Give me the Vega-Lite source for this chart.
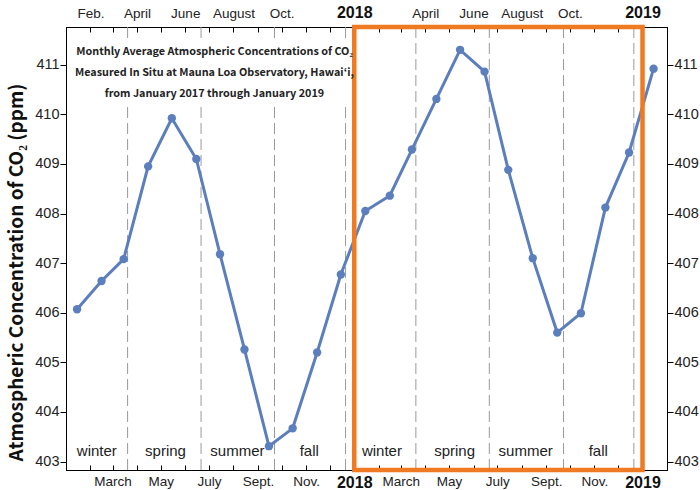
{
  "$schema": "https://vega.github.io/schema/vega-lite/v6.json",
  "autosize": {"type": "none"},
  "padding": {"left": 66, "top": 27, "right": 33, "bottom": 20},
  "width": 601,
  "height": 443,
  "background": "white",
  "config": {
    "view": {"stroke": "#000", "strokeWidth": 1},
    "axis": {
      "domainColor": "#000",
      "tickColor": "#000",
      "labelFont": "Liberation Sans",
      "labelColor": "#222",
      "grid": false
    }
  },
  "datasets": {
    "co2": [
      {"date": "2017-01-15", "ppm": 406.07},
      {"date": "2017-02-15", "ppm": 406.64},
      {"date": "2017-03-15", "ppm": 407.08},
      {"date": "2017-04-15", "ppm": 408.95},
      {"date": "2017-05-15", "ppm": 409.92},
      {"date": "2017-06-15", "ppm": 409.10},
      {"date": "2017-07-15", "ppm": 407.18},
      {"date": "2017-08-15", "ppm": 405.26},
      {"date": "2017-09-15", "ppm": 403.31},
      {"date": "2017-10-15", "ppm": 403.67},
      {"date": "2017-11-15", "ppm": 405.20},
      {"date": "2017-12-15", "ppm": 406.77},
      {"date": "2018-01-15", "ppm": 408.05},
      {"date": "2018-02-15", "ppm": 408.36},
      {"date": "2018-03-15", "ppm": 409.29},
      {"date": "2018-04-15", "ppm": 410.31},
      {"date": "2018-05-15", "ppm": 411.30},
      {"date": "2018-06-15", "ppm": 410.86},
      {"date": "2018-07-15", "ppm": 408.88},
      {"date": "2018-08-15", "ppm": 407.10},
      {"date": "2018-09-15", "ppm": 405.60},
      {"date": "2018-10-15", "ppm": 405.99},
      {"date": "2018-11-15", "ppm": 408.12},
      {"date": "2018-12-15", "ppm": 409.23},
      {"date": "2019-01-15", "ppm": 410.92}
    ],
    "seasons": [
      {"date": "2017-02-09", "label": "winter"},
      {"date": "2017-05-07", "label": "spring"},
      {"date": "2017-08-06", "label": "summer"},
      {"date": "2017-11-05", "label": "fall"},
      {"date": "2018-02-05", "label": "winter"},
      {"date": "2018-05-08", "label": "spring"},
      {"date": "2018-08-06", "label": "summer"},
      {"date": "2018-11-06", "label": "fall"}
    ],
    "boundaries": [
      {"date": "2017-03-20"},
      {"date": "2017-06-21"},
      {"date": "2017-09-22"},
      {"date": "2017-12-21"},
      {"date": "2018-03-20"},
      {"date": "2018-06-21"},
      {"date": "2018-09-23"},
      {"date": "2018-12-21"}
    ],
    "titlelines": [
      {"date": "2017-07-08", "ppm": 411.25, "text": "Monthly Average Atmospheric Concentrations of CO₂"},
      {"date": "2017-07-08", "ppm": 410.83, "text": "Measured In Situ at Mauna Loa Observatory, Hawaiʻi,"},
      {"date": "2017-07-08", "ppm": 410.41, "text": "from January 2017 through January 2019"}
    ],
    "titlebox": [
      {"start": "2017-01-09", "end": "2017-12-29", "low": 410.2, "high": 411.45}
    ],
    "highlight": [
      {"start": "2018-01-01", "end": "2019-01-01"}
    ]
  },
  "layer": [
    {
      "data": {"name": "boundaries"},
      "mark": {"type": "rule", "color": "#999", "strokeWidth": 1, "strokeDash": [11, 5]},
      "encoding": {
        "x": {"field": "date", "type": "temporal", "scale": {"type": "utc", "domain": [{"year": 2017, "month": 1, "date": 1, "utc": true}, {"year": 2019, "month": 2, "date": 1, "utc": true}]}, "axis": null}
      }
    },
    {
      "data": {"name": "titlebox"},
      "mark": {"type": "rect", "fill": "white", "stroke": null},
      "encoding": {
        "x": {"field": "start", "type": "temporal", "axis": null},
        "x2": {"field": "end"},
        "y": {"field": "low", "type": "quantitative", "axis": null},
        "y2": {"field": "high"}
      }
    },
    {
      "data": {"name": "co2"},
      "mark": {"type": "line", "color": "#5B7EBD", "strokeWidth": 3},
      "encoding": {
        "x": {
          "field": "date", "type": "temporal",
          "axis": {
            "orient": "bottom", "title": null,
            "tickCount": {"interval": "month", "step": 1},
            "tickSize": -5,
            "labelPadding": 9,
            "labelOverlap": false, "labelBound": false, "labelFlush": false,
            "labelExpr": "utcmonth(datum.value)==0 ? (utcyear(datum.value)>2017 ? utcyear(datum.value)+'' : '') : utcmonth(datum.value)==2 ? 'March' : utcmonth(datum.value)==4 ? 'May' : utcmonth(datum.value)==6 ? 'July' : utcmonth(datum.value)==8 ? 'Sept.' : utcmonth(datum.value)==10 ? 'Nov.' : ''",
            "labelFontWeight": {"condition": {"test": "utcmonth(datum.value)==0", "value": "bold"}, "value": "normal"},
            "labelFontSize": {"condition": {"test": "utcmonth(datum.value)==0", "value": 16}, "value": 13.5},
            "labelColor": {"condition": {"test": "utcmonth(datum.value)==0", "value": "#111"}, "value": "#222"}
          }
        },
        "y": {
          "field": "ppm", "type": "quantitative",
          "scale": {"domain": [402.83, 411.76], "nice": false, "zero": false},
          "axis": {
            "orient": "left",
            "values": [403, 404, 405, 406, 407, 408, 409, 410, 411],
            "tickSize": 6, "labelPadding": 1, "labelFontSize": 14.5,
            "title": "Atmospheric Concentration of CO₂ (ppm)",
            "titleFont": "Noto Sans CJK SC",
            "titleFontWeight": "bold",
            "titleFontSize": 19,
            "titleColor": "#111",
            "titleX": -50, "titleY": 245, "titleAngle": -90,
            "titleAlign": "center", "titleBaseline": "middle"
          }
        }
      }
    },
    {
      "data": {"name": "co2"},
      "mark": {"type": "circle", "color": "#5B7EBD", "size": 70, "opacity": 1},
      "encoding": {
        "x": {
          "field": "date", "type": "temporal",
          "axis": {
            "orient": "top", "title": null,
            "tickCount": {"interval": "month", "step": 1},
            "tickSize": -5,
            "labelPadding": 12,
            "labelOverlap": false, "labelBound": false, "labelFlush": false,
            "labelExpr": "utcmonth(datum.value)==0 ? (utcyear(datum.value)>2017 ? utcyear(datum.value)+'' : '') : (utcmonth(datum.value)==1 && utcyear(datum.value)==2017) ? 'Feb.' : utcmonth(datum.value)==3 ? 'April' : utcmonth(datum.value)==5 ? 'June' : utcmonth(datum.value)==7 ? 'August' : utcmonth(datum.value)==9 ? 'Oct.' : ''",
            "labelFontWeight": {"condition": {"test": "utcmonth(datum.value)==0", "value": "bold"}, "value": "normal"},
            "labelFontSize": {"condition": {"test": "utcmonth(datum.value)==0", "value": 16}, "value": 13.5},
            "labelColor": {"condition": {"test": "utcmonth(datum.value)==0", "value": "#111"}, "value": "#222"}
          }
        },
        "y": {
          "field": "ppm", "type": "quantitative",
          "axis": {
            "orient": "right",
            "values": [403, 404, 405, 406, 407, 408, 409, 410, 411],
            "tickSize": 6, "labelPadding": 1, "labelFontSize": 14.5,
            "title": null
          }
        }
      }
    },
    {
      "data": {"name": "highlight"},
      "mark": {"type": "rect", "filled": false, "stroke": "#F07A22", "strokeWidth": 4.5},
      "encoding": {
        "x": {"field": "start", "type": "temporal", "axis": null},
        "x2": {"field": "end"}
      }
    },
    {
      "data": {"name": "seasons"},
      "mark": {"type": "text", "font": "Liberation Sans", "fontSize": 15, "color": "#222", "baseline": "middle", "align": "center"},
      "encoding": {
        "x": {"field": "date", "type": "temporal", "axis": null},
        "y": {"datum": 403.21, "type": "quantitative", "axis": null},
        "text": {"field": "label"}
      }
    },
    {
      "data": {"name": "titlelines"},
      "mark": {"type": "text", "font": "Noto Sans CJK SC", "fontWeight": "bold", "fontSize": 10.8, "color": "#222", "baseline": "middle", "align": "center"},
      "encoding": {
        "x": {"field": "date", "type": "temporal", "axis": null},
        "y": {"field": "ppm", "type": "quantitative", "axis": null},
        "text": {"field": "text"}
      }
    }
  ]
}
